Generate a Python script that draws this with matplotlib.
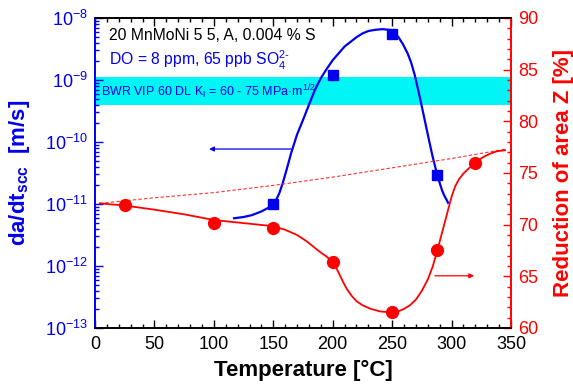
import numpy as np
import matplotlib
matplotlib.use("Agg")
import matplotlib.pyplot as plt
from matplotlib.ticker import MultipleLocator, LogLocator, NullFormatter

plt.rcParams['font.family'] = ['Liberation Sans', 'DejaVu Sans']
plt.rcParams['mathtext.fontset'] = 'custom'
plt.rcParams['mathtext.rm'] = 'Liberation Sans'
plt.rcParams['mathtext.it'] = 'Liberation Sans:italic'
plt.rcParams['mathtext.bf'] = 'Liberation Sans:bold'

# crack growth rate, measured points
temp_rate = [150, 200, 250, 288]
rate = [1.0e-11, 1.2e-9, 5.6e-9, 2.9e-11]

# trend curve through the crack growth rates (T, log10 rate)
curve_T = [117, 125, 132, 140, 145, 149, 152, 155, 158, 161, 165, 170, 175, 180,
           185, 190, 195, 200, 205, 210, 216, 220, 225, 230, 236, 242, 247, 251,
           255, 259, 263, 266, 269, 272, 275, 278, 281, 284, 287, 290, 292, 294,
           296, 297]
curve_lograte = [-11.23, -11.21, -11.18, -11.12, -11.07, -11.02, -10.95, -10.83,
                 -10.66, -10.46, -10.18, -9.88, -9.645, -9.40, -9.16, -8.97, -8.82,
                 -8.68, -8.57, -8.46, -8.37, -8.31, -8.25, -8.21, -8.19, -8.18,
                 -8.19, -8.23, -8.30, -8.42, -8.57, -8.72, -8.92, -9.17, -9.43,
                 -9.70, -9.97, -10.23, -10.46, -10.66, -10.78, -10.87, -10.94, -10.98]

# reduction of area
temp_z = [25, 100, 150, 200, 250, 288, 320]
z = [71.9, 70.2, 69.7, 66.4, 61.5, 67.5, 76.0]

z_curve_T = [4, 25, 50, 75, 100, 125, 150, 160, 170, 178, 185, 190, 195, 200, 203,
             206, 209, 212, 216, 220, 225, 232, 240, 250, 255, 260, 265, 270, 275,
             280, 284, 288, 291, 294, 297, 300, 303, 306, 310, 315, 320, 326, 332,
             338, 345]
z_curve = [72.06, 71.85, 71.45, 71.0, 70.45, 70.15, 69.85, 69.5, 69.0, 68.4, 67.75,
           67.3, 66.9, 66.35, 65.8, 65.1, 64.4, 63.75, 63.1, 62.6, 62.2, 61.85,
           61.6, 61.5, 61.6, 61.85, 62.2, 62.75, 63.6, 64.7, 65.9, 67.5, 68.8,
           70.1, 71.4, 72.7, 73.7, 74.35, 74.95, 75.5, 76.0, 76.5, 76.85, 77.1, 77.2]

# inert reference for reduction of area (dashed)
ref_T = [4, 50, 100, 150, 200, 250, 300, 345]
ref_z = [72.06, 72.6, 73.1, 73.8, 74.6, 75.5, 76.4, 77.3]

# BWR VIP 60 disposition line band
band = (4.0e-10, 1.1e-9)

fig = plt.figure(figsize=(5.73, 3.86), dpi=100)
ax = fig.add_axes([0.1658, 0.1503, 0.726, 0.8031])
ax2 = ax.twinx()

ax.axhspan(band[0], band[1], color='#00f5f5', zorder=0, lw=0)
ax.plot(curve_T, 10.0 ** np.array(curve_lograte), color='#0000ee', lw=1.6, zorder=3)
ax.plot(temp_rate, rate, 's', color='#0000ee', ms=7.5, zorder=4)

ax2.plot(ref_T, ref_z, '--', color='#ff3030', lw=0.8, dashes=(3, 2))
ax2.plot(z_curve_T, z_curve, color='#ff0000', lw=1.3)
ax2.plot(temp_z, z, 'o', color='#ff0000', ms=8.5)

ax.annotate('', xy=(96, 7.7e-11), xytext=(165, 7.7e-11),
            arrowprops=dict(arrowstyle='-|>', color='#0000ee', lw=0.9,
                            mutation_scale=7, shrinkA=0, shrinkB=0))
ax2.annotate('', xy=(319, 65.05), xytext=(286, 65.05),
             arrowprops=dict(arrowstyle='-|>', color='#ff0000', lw=0.9,
                             mutation_scale=7, shrinkA=0, shrinkB=0))

ax.set_xlim(0, 350)
ax.set_yscale('log')
ax.set_ylim(1e-13, 1e-8)
ax2.set_ylim(60, 90)

ax.xaxis.set_major_locator(MultipleLocator(50))
ax.xaxis.set_minor_locator(MultipleLocator(10))
ax.yaxis.set_major_locator(LogLocator(base=10, numticks=10))
ax.yaxis.set_minor_locator(LogLocator(base=10, subs=np.arange(2, 10), numticks=20))
ax.yaxis.set_minor_formatter(NullFormatter())
ax2.yaxis.set_major_locator(MultipleLocator(5))
ax2.yaxis.set_minor_locator(MultipleLocator(1))

ax.tick_params(axis='x', which='both', direction='in', top=True, colors='black',
               labelsize=13, pad=6)
ax.tick_params(axis='x', which='major', length=6, width=1)
ax.tick_params(axis='x', which='minor', length=3, width=1)
ax.tick_params(axis='y', which='both', direction='in', colors='#0000ee',
               labelsize=13, pad=5)
ax.tick_params(axis='y', which='major', length=6, width=1)
ax.tick_params(axis='y', which='minor', length=3, width=1)
ax2.tick_params(axis='y', which='both', direction='in', colors='#ff0000',
                labelsize=13, pad=5)
ax2.tick_params(axis='y', which='major', length=6, width=1)
ax2.tick_params(axis='y', which='minor', length=3, width=1)

for a in (ax, ax2):
    a.spines['left'].set_color('#0000ee')
    a.spines['right'].set_color('#ff0000')
    a.spines['top'].set_color('black')
    a.spines['bottom'].set_color('black')
    for s in a.spines.values():
        s.set_linewidth(1.2)

ax.set_xlabel('Temperature [°C]', fontsize=16, fontweight='bold', labelpad=5)
ax.set_ylabel(r'da/dt$_\mathbf{scc}$  [m/s]', fontsize=16, fontweight='bold',
              color='#0000ee', labelpad=9)
ax2.set_ylabel('Reduction of area Z [%]', fontsize=16, fontweight='bold',
               color='#ff0000', labelpad=11)

ax.text(0.034, 0.942, '20 MnMoNi 5 5, A, 0.004 % S', transform=ax.transAxes,
        fontsize=11.3, color='black', va='center', ha='left')
ax.text(0.034, 0.862, r'DO = 8 ppm, 65 ppb SO$_4^{2\text{-}}$', transform=ax.transAxes,
        fontsize=11.3, color='#0000ee', va='center', ha='left')
ax.text(0.014, 0.762, r'BWR VIP 60 DL K$_\mathrm{I}$ = 60 - 75 MPa·m$^{1/2}$',
        transform=ax.transAxes, fontsize=9, color='#0000ee', va='center', ha='left')

fig.savefig('out.png', dpi=100)
